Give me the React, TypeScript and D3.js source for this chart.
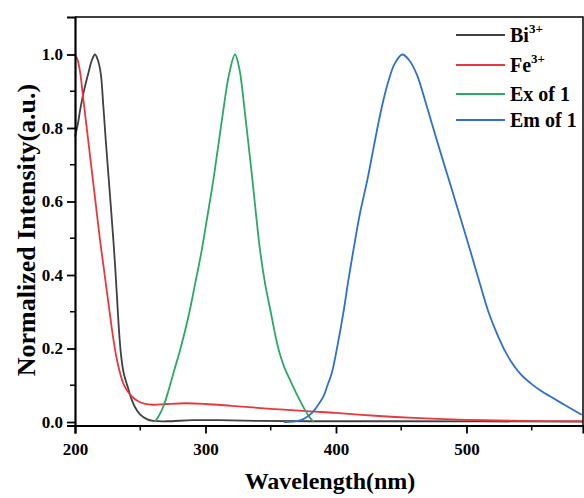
import * as d3 from 'd3';
import { useRef, useEffect } from 'react';

// wavelength (nm) / normalized intensity
const biWl = [200, 202.5, 204, 206.4, 210.2, 213, 215.3, 217.5, 219.7, 221.7, 223.5, 225.5, 227.5, 229.4, 231, 232.5, 234, 235.5, 237.5, 240, 243, 246, 250, 255, 260, 270, 290, 310, 340, 380, 450, 589];
const biVal = [0.776, 0.817, 0.85, 0.894, 0.949, 0.985, 1.0, 0.985, 0.949, 0.86, 0.77, 0.677, 0.585, 0.495, 0.41, 0.32, 0.235, 0.175, 0.13, 0.1, 0.065, 0.04, 0.02, 0.008, 0.003, 0.002, 0.005, 0.005, 0.003, 0.002, 0.002, 0.001];

const feWl = [200, 202, 204, 206, 208, 210, 213, 216, 219, 222, 225, 228, 231, 234, 237, 240, 244, 248, 253, 260, 270, 285, 300, 320, 350, 380, 400, 430, 460, 500, 540, 589];
const feVal = [1.0, 0.985, 0.95, 0.89, 0.83, 0.77, 0.68, 0.59, 0.5, 0.42, 0.34, 0.26, 0.19, 0.14, 0.105, 0.085, 0.068, 0.057, 0.05, 0.047, 0.049, 0.051, 0.049, 0.044, 0.036, 0.029, 0.025, 0.017, 0.011, 0.006, 0.003, 0.002];

const exWl = [261, 264, 268, 272, 276, 280.5, 286.8, 292, 297, 301, 306.5, 313.7, 318, 322.6, 326, 329.7, 335.4, 341.8, 345.6, 350.7, 354, 357, 360.5, 364.8, 370, 376.2, 380, 383];
const exVal = [0, 0.015, 0.045, 0.09, 0.14, 0.195, 0.285, 0.375, 0.465, 0.55, 0.67, 0.85, 0.945, 1.0, 0.96, 0.858, 0.677, 0.468, 0.378, 0.287, 0.228, 0.185, 0.148, 0.114, 0.075, 0.033, 0.012, 0];

const emWl = [360, 367, 375, 381.4, 386, 390.3, 393.5, 396.7, 401, 405.6, 409.5, 413.8, 418.4, 424, 429, 435, 440, 445, 450.8, 456, 462, 469.5, 477, 486, 495, 503, 510, 517.5, 524, 530, 536, 542, 550, 557, 564, 575, 588.3];
const emVal = [0, 0.001, 0.008, 0.024, 0.045, 0.069, 0.1, 0.132, 0.205, 0.296, 0.386, 0.477, 0.568, 0.658, 0.75, 0.855, 0.925, 0.975, 1.0, 0.985, 0.945, 0.86, 0.77, 0.665, 0.56, 0.465, 0.38, 0.293, 0.235, 0.19, 0.155, 0.128, 0.103, 0.085, 0.07, 0.047, 0.02];

const xTicks = [200, 300, 400, 500];
const xMinor = [250, 350, 450, 550];
const yTicks = [0, 0.2, 0.4, 0.6, 0.8, 1.0];
const yMinor = [0.1, 0.3, 0.5, 0.7, 0.9];

const series = [
  { name: 'Bi', sup: '3+', wl: biWl, val: biVal, color: '#404040' },
  { name: 'Fe', sup: '3+', wl: feWl, val: feVal, color: '#e8383d' },
  { name: 'Ex of 1', sup: '', wl: exWl, val: exVal, color: '#2ca865' },
  { name: 'Em of 1', sup: '', wl: emWl, val: emVal, color: '#2f6fcc' },
];

function App() {
  const svgRef = useRef<SVGSVGElement>(null);
  const width = 584;
  const height = 498;
  const font = '"Liberation Serif", "Times New Roman", serif';

  useEffect(() => {
    const svg = d3.select(svgRef.current);
    svg.selectAll('*').remove();

    const x = d3.scaleLinear().domain([200, 589.3]).range([75, 583]);
    const y = d3.scaleLinear().domain([-0.0095, 1.102]).range([425.5, 17]);

    // curves
    const line = d3
      .line<[number, number]>()
      .curve(d3.curveCatmullRom.alpha(0.5))
      .x((d) => x(d[0]))
      .y((d) => y(d[1]));

    series.forEach((s) => {
      const pts = s.wl.map((w, i) => [w, s.val[i]] as [number, number]);
      svg
        .append('path')
        .attr('d', line(pts))
        .attr('fill', 'none')
        .attr('stroke', s.color)
        .attr('stroke-width', 1.8);
    });

    // frame
    svg
      .append('path')
      .attr('d', `M${x(200)},${y(1.102)}H${x(589.3)}V${y(-0.0095)}`)
      .attr('fill', 'none')
      .attr('stroke', '#000')
      .attr('stroke-width', 1.5);

    // x axis
    const xAxis = svg.append('g').attr('transform', `translate(0,${y(-0.0095)})`);
    xAxis
      .call(d3.axisBottom(x).tickValues(xTicks).tickSize(8).tickFormat(d3.format('d')))
      .call((g) => g.select('.domain').attr('stroke-width', 2.2))
      .call((g) => g.selectAll('.tick line').attr('stroke-width', 1.8))
      .call((g) =>
        g
          .selectAll('.tick text')
          .attr('font-family', font)
          .attr('font-weight', 'bold')
          .attr('font-size', 17)
          .attr('y', 17)
          .attr('fill', '#000'),
      );
    xAxis
      .selectAll('.minor')
      .data(xMinor)
      .join('line')
      .attr('x1', (d) => x(d))
      .attr('x2', (d) => x(d))
      .attr('y1', 0)
      .attr('y2', 5)
      .attr('stroke', '#000')
      .attr('stroke-width', 1.5);

    // y axis
    const yAxis = svg.append('g').attr('transform', `translate(${x(200)},0)`);
    yAxis
      .call(d3.axisLeft(y).tickValues(yTicks).tickSize(8).tickFormat(d3.format('.1f')))
      .call((g) => g.select('.domain').attr('stroke-width', 2.2))
      .call((g) => g.selectAll('.tick line').attr('stroke-width', 1.8))
      .call((g) =>
        g
          .selectAll('.tick text')
          .attr('font-family', font)
          .attr('font-weight', 'bold')
          .attr('font-size', 17)
          .attr('fill', '#000')
          .attr('x', -12),
      );
    yAxis
      .selectAll('.minor')
      .data(yMinor)
      .join('line')
      .attr('x1', 0)
      .attr('x2', -5)
      .attr('y1', (d) => y(d))
      .attr('y2', (d) => y(d))
      .attr('stroke', '#000')
      .attr('stroke-width', 1.5);

    // titles
    svg
      .append('text')
      .attr('x', 330)
      .attr('y', 489)
      .attr('text-anchor', 'middle')
      .attr('font-family', font)
      .attr('font-weight', 'bold')
      .attr('font-size', 24)
      .text('Wavelength(nm)');
    svg
      .append('text')
      .attr('transform', 'translate(35,230) rotate(-90)')
      .attr('text-anchor', 'middle')
      .attr('font-family', font)
      .attr('font-weight', 'bold')
      .attr('font-size', 26)
      .text('Normalized Intensity(a.u.)');

    // legend
    const legendY = [35, 65, 94, 120];
    const legend = svg.append('g');
    series.forEach((s, i) => {
      const ly = legendY[i];
      legend
        .append('line')
        .attr('x1', 456)
        .attr('x2', 505)
        .attr('y1', ly)
        .attr('y2', ly)
        .attr('stroke', s.color)
        .attr('stroke-width', 1.8);
      const t = legend
        .append('text')
        .attr('x', 510)
        .attr('y', ly + 7)
        .attr('font-family', font)
        .attr('font-weight', 'bold')
        .attr('font-size', 20)
        .text(s.name);
      if (s.sup) {
        t.append('tspan')
          .attr('font-size', 13)
          .attr('dy', -9)
          .text(s.sup);
      }
    });
  }, []);

  return (
    <svg
      ref={svgRef}
      width={width}
      height={height}
      style={{ position: 'absolute', left: 0, top: 0, background: '#fff' }}
    />
  );
}

export default App;
